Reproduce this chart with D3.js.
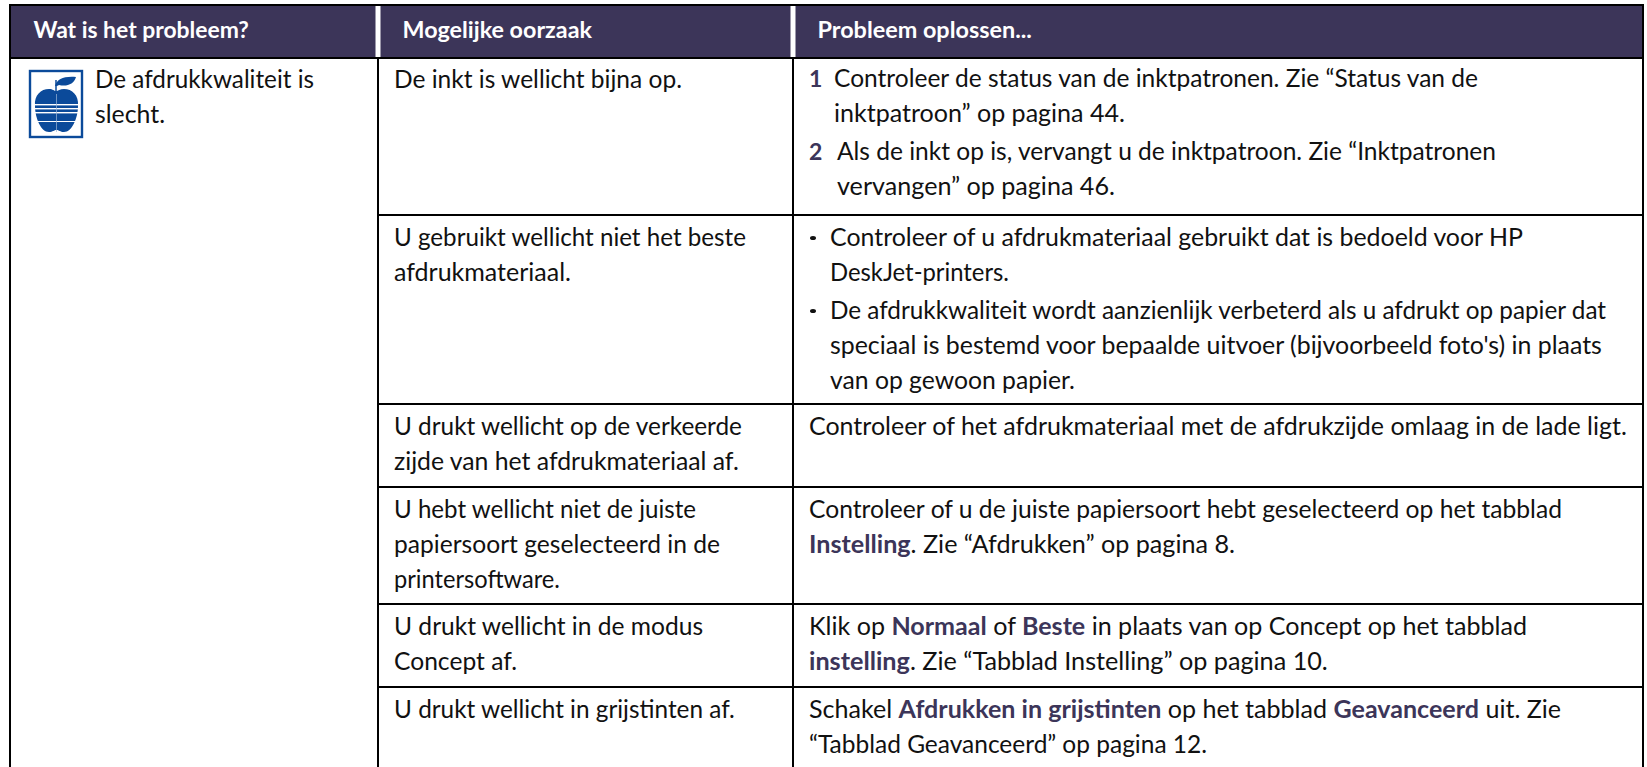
<!DOCTYPE html>
<html><head><meta charset="utf-8">
<script src="https://cdn.jsdelivr.net/npm/d3@7/dist/d3.min.js"></script>
<style>html,body{margin:0;padding:0;background:#fff;overflow:hidden}svg{display:block}text{font-family:Lato,sans-serif;white-space:pre}</style>
</head><body><div id="c"></div>
<script>
const columns=["Wat is het probleem?","Mogelijke oorzaak","Probleem oplossen..."];
const problems=["De afdrukkwaliteit is","slecht."];
const rowIds=["inkt","materiaal","zijde","soort","modus","grijs"];
const causes=[
 ["De inkt is wellicht bijna op."],
 ["U gebruikt wellicht niet het beste","afdrukmateriaal."],
 ["U drukt wellicht op de verkeerde","zijde van het afdrukmateriaal af."],
 ["U hebt wellicht niet de juiste","papiersoort geselecteerd in de","printersoftware."],
 ["U drukt wellicht in de modus","Concept af."],
 ["U drukt wellicht in grijstinten af."]];
const solutions=[
 [{m:"1",l:["Controleer de status van de inktpatronen. Zie “Status van de","inktpatroon” op pagina 44."]},
  {m:"2",l:["Als de inkt op is, vervangt u de inktpatroon. Zie “Inktpatronen","vervangen” op pagina 46."]}],
 [{m:"•",l:["Controleer of u afdrukmateriaal gebruikt dat is bedoeld voor HP","DeskJet-printers."]},
  {m:"•",l:["De afdrukkwaliteit wordt aanzienlijk verbeterd als u afdrukt op papier dat","speciaal is bestemd voor bepaalde uitvoer (bijvoorbeeld foto's) in plaats","van op gewoon papier."]}],
 [{l:["Controleer of het afdrukmateriaal met de afdrukzijde omlaag in de lade ligt."]}],
 [{l:["Controleer of u de juiste papiersoort hebt geselecteerd op het tabblad","*Instelling*. Zie “Afdrukken” op pagina 8."]}],
 [{l:["Klik op *Normaal* of *Beste* in plaats van op Concept op het tabblad","*instelling*. Zie “Tabblad Instelling” op pagina 10."]}],
 [{l:["Schakel *Afdrukken in grijstinten* op het tabblad *Geavanceerd* uit. Zie","“Tabblad Geavanceerd” op pagina 12."]}]];

// right-hand ends of each printed line, used to fit the substitute typeface
const headEnds=[249,592,1032];
const problemEnds=[314,165];
const causeEnds=[[682],[746,571],[742,739],[696,720,560],[703,517],[735]];
const solutionEnds=[[[1478,1125],[1496,1115]],[[1523,1009],[1606,1602,1075]],[[1627]],[[1562,1235]],[[1527,1328]],[[1561,1207]]];

const W=1647,H=767,navy="#3c3559",ink="#111",blue="#0b4a9a";
const fs=24.4,lh=35;
const svg=d3.select("#c").append("svg").attr("width",W).attr("height",H);
const x=d3.scaleOrdinal(columns,[10,378,793]);
const xEnd=1643,yTop=5,headBottom=58;
const y=d3.scaleOrdinal(rowIds,[58,215,404,487,604,687]);
const hdrEdges=columns.map((c,i)=>[i?x(c)+2.5:10,i<2?x(columns[i+1])-2.5:xEnd]);

svg.append("g").selectAll("rect").data(hdrEdges).join("rect")
 .attr("x",d=>d[0]).attr("y",yTop).attr("width",d=>d[1]-d[0]).attr("height",headBottom-yTop).attr("fill",navy);

function fit(t,px,py,end){
 const len=t.node().getComputedTextLength();
 t.attr("transform",`translate(${px},${py}) scale(${(end-px)/len},1)`);
 return t;
}
const head=svg.append("g");
columns.forEach((c,i)=>{
 const t=head.append("text").attr("fill","#fff").attr("font-weight",700).attr("font-size",22.5).text(c);
 fit(t,x(c)+[23.5,24.5,24.5][i],38,headEnds[i]);
});

const rules=svg.append("g").attr("stroke","#000").attr("stroke-width",2);
rules.append("line").attr("x1",9).attr("x2",xEnd+1).attr("y1",yTop).attr("y2",yTop);
rules.append("line").attr("x1",9).attr("x2",xEnd+1).attr("y1",headBottom).attr("y2",headBottom);
rules.selectAll(".h").data(rowIds.slice(1)).join("line").attr("class","h").attr("x1",x(columns[1])).attr("x2",xEnd+1).attr("y1",d=>y(d)).attr("y2",d=>y(d));
rules.append("line").attr("x1",10).attr("x2",10).attr("y1",yTop).attr("y2",H);
rules.append("line").attr("x1",xEnd).attr("x2",xEnd).attr("y1",yTop).attr("y2",H);
rules.selectAll(".v").data(columns.slice(1)).join("line").attr("class","v").attr("x1",d=>x(d)).attr("x2",d=>x(d)).attr("y1",headBottom).attr("y2",H);

const body=svg.append("g");
function put(str,px,py,end){
 const t=body.append("text").attr("font-size",fs).attr("fill",ink);
 str.split("*").forEach((s,i)=>{ if(s) t.append("tspan").attr("font-weight",i%2?700:400).attr("fill",i%2?navy:ink).text(s);});
 return fit(t,px,py,end);
}
problems.forEach((s,i)=>put(s,95,88+i*lh,problemEnds[i]));
causes.forEach((lines,r)=>{
 const base=y(rowIds[r])+(r?31:30);
 lines.forEach((s,i)=>put(s,394,base+i*lh,causeEnds[r][i]));
});
solutions.forEach((paras,r)=>{
 let b=y(rowIds[r])+(r?31:29);
 paras.forEach((p,k)=>{
  const tx=!p.m?809:(p.m==="•"?830:(p.m==="2"?837:834));
  if(p.m==="•") body.append("ellipse").attr("cx",813).attr("cy",b-8).attr("rx",3).attr("ry",2).attr("fill",ink);
  else if(p.m) body.append("text").attr("x",809).attr("y",b).attr("font-size",23).attr("font-weight",700).attr("fill",navy).text(p.m);
  p.l.forEach((s,i)=>put(s,tx,b+i*lh,solutionEnds[r][k][i]));
  b+=p.l.length*lh+3;
 });
});

// icon
const ic=svg.append("g").attr("transform","translate(29,70)");
ic.append("rect").attr("x",1).attr("y",1).attr("width",52).attr("height",66).attr("fill","#fff").attr("stroke",blue).attr("stroke-width",2.4);
ic.append("path").attr("fill",blue).attr("d","M6 36C5 25 12 19 20 19C24 19 25 21 27 21C29 21 31 19 35 19C43 19 50 25 49 36C49 48 43 62 35 62C31 62 30 60 27.5 60C25 60 24 62 20 62C12 62 6 48 6 36Z");
ic.append("path").attr("fill",blue).attr("d","M26 16C28 9 35 6 47 7C45 14 38 17 30 15L28 16Z");
ic.append("path").attr("stroke",blue).attr("stroke-width",1.5).attr("fill","none").attr("d","M27 21L27 10");
ic.append("g").attr("fill","#fff").selectAll("rect").data([34,38,42,51]).join("rect").attr("x",4).attr("width",47).attr("y",d=>d).attr("height",(d,i)=>i==3?1:1.4);
ic.append("rect").attr("x",27).attr("y",24).attr("width",.7).attr("height",38).attr("fill","#9db6d8");
</script></body></html>
